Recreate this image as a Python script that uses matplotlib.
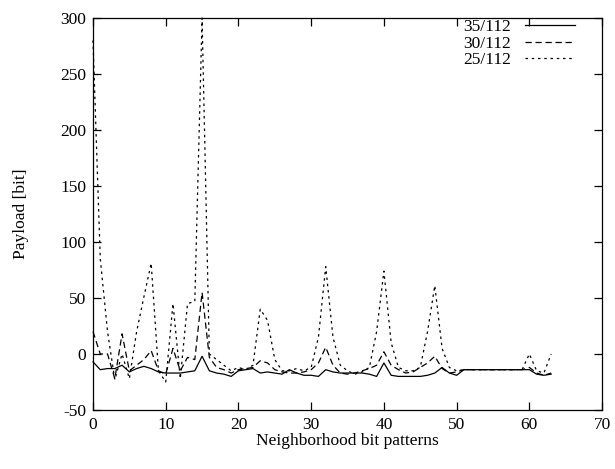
import matplotlib
matplotlib.use("Agg")
from matplotlib import pyplot as plt
import numpy as np

# neighborhood bit patterns 0..63
patterns = list(range(64))

payload_35 = [-7, -14, -13, -13, -10, -16, -13, -11, -13, -16,
              -17, -17, -17, -16, -15, -2, -15, -17, -18, -20,
              -15, -14, -13, -17, -16, -17, -18, -14, -17, -19,
              -19, -20, -14, -16, -17, -17, -17, -17, -18, -20,
              -8, -19, -20, -20, -20, -20, -19, -17, -12, -17,
              -19, -14, -14, -14, -14, -14, -14, -14, -14, -14,
              -14, -18, -19, -18]

payload_30 = [20, 0, 0, -22, 18, -15, -10, -5, 3, -15,
              -18, 5, -15, -3, -5, 55, -3, -12, -14, -17,
              -14, -13, -12, -6, -8, -14, -16, -17, -17, -16,
              -14, -8, 6, -10, -17, -18, -17, -15, -13, -10,
              2, -10, -14, -17, -16, -12, -8, -2, -13, -17,
              -16, -14, -14, -14, -14, -14, -14, -14, -14, -14,
              -12, -17, -19, -17]

payload_25 = [280, 85, 20, -23, 0, -22, 20, 51, 81, -15,
              -25, 45, -22, 45, 47, 300, 0, -5, -10, -15,
              -12, -14, -10, 40, 30, -5, -15, -15, -13, -15,
              -12, 15, 78, 15, -10, -15, -18, -16, -12, 20,
              74, 10, -12, -15, -15, -12, 20, 61, 5, -12,
              -15, -14, -14, -14, -14, -14, -14, -14, -14, -14,
              0, -15, -17, 0]

labels = ["35/112", "30/112", "25/112"]

plt.rcParams['font.family'] = ['Liberation Serif', 'DejaVu Serif']
plt.rcParams['axes.unicode_minus'] = False

fig = plt.figure(figsize=(6.15, 4.69), dpi=100)
ax = fig.add_axes([0.1512, 0.1258, 0.8278, 0.8358])

styles = ['-', (0, (5, 3)), (0, (2, 3))]
for vals, ls, lab in zip([payload_35, payload_30, payload_25], styles, labels):
    ax.plot(patterns, vals, color='black', linewidth=0.9, linestyle=ls, label=lab,
            zorder=3, clip_on=False)

ax.set_xlim(0, 70)
ax.set_ylim(-50, 300)
ax.set_xticks(range(0, 71, 10))
ax.set_yticks(range(-50, 301, 50))

ax.tick_params(direction='in', length=6, width=0.9, top=True, right=True, labelsize=12.5, pad=5)
for s in ax.spines.values():
    s.set_linewidth(0.9)

ax.set_xlabel("Neighborhood bit patterns", fontsize=12.5, labelpad=0)
ax.set_ylabel("Payload [bit]", fontsize=12.5, labelpad=22)

ax.legend(loc='upper right', bbox_to_anchor=(0.957, 1.01), frameon=False, markerfirst=False,
          fontsize=12.5, handlelength=2.9, handletextpad=0.8, borderaxespad=0.1, borderpad=0.2,
          labelspacing=0.0)

fig.savefig("out.png", dpi=100)
